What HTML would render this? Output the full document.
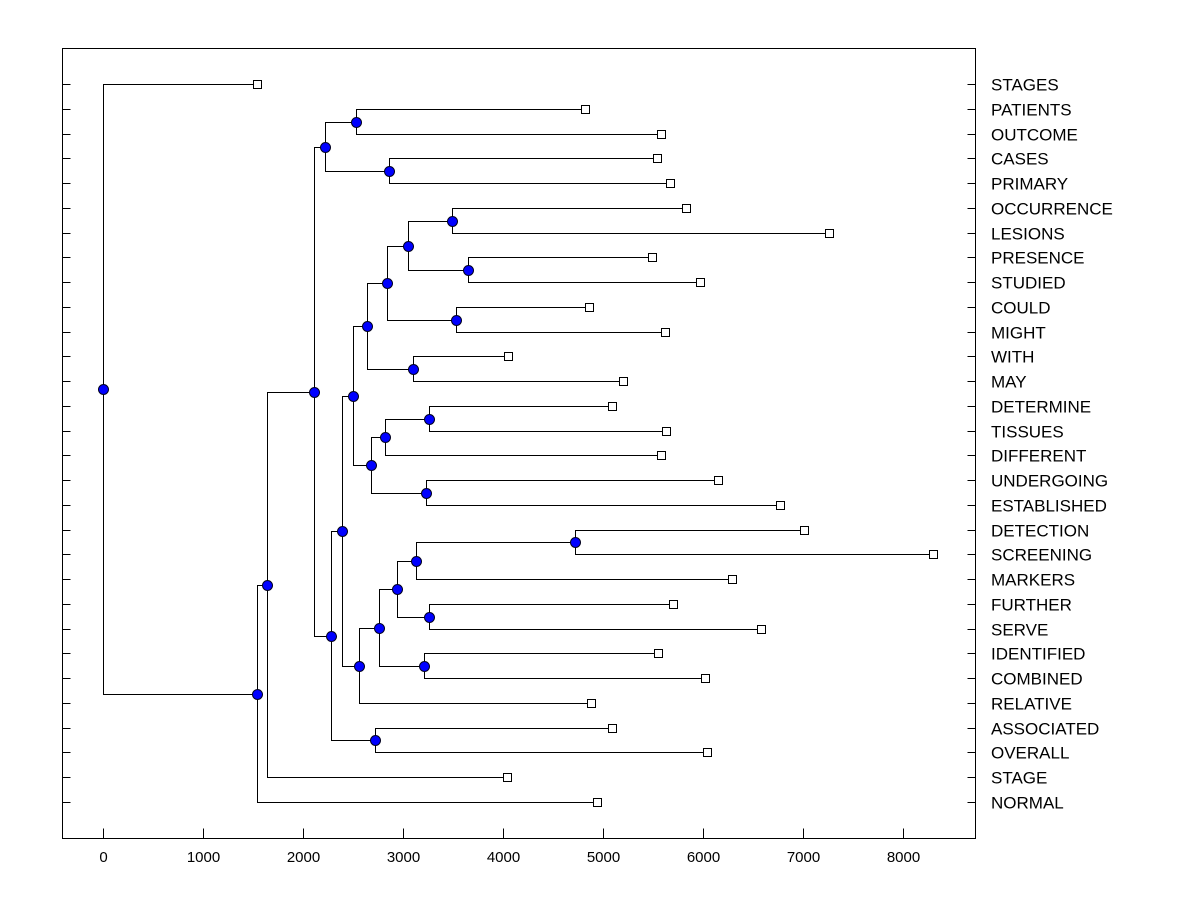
<!DOCTYPE html>
<html><head><meta charset="utf-8"><style>
body{margin:0;background:#fff;}
svg{display:block;font-family:"Liberation Sans",Arial,sans-serif;}
</style></head><body>
<svg id="chart" width="1200" height="900" viewBox="0 0 1200 900"></svg>
<script>
const leafNames=["STAGES","PATIENTS","OUTCOME","CASES","PRIMARY","OCCURRENCE","LESIONS","PRESENCE","STUDIED","COULD","MIGHT","WITH","MAY","DETERMINE","TISSUES","DIFFERENT","UNDERGOING","ESTABLISHED","DETECTION","SCREENING","MARKERS","FURTHER","SERVE","IDENTIFIED","COMBINED","RELATIVE","ASSOCIATED","OVERALL","STAGE","NORMAL"];
const leafValues=[1540,4820,5580,5540,5670,5830,7260,5490,5970,4860,5620,4050,5200,5090,5630,5580,6150,6770,7010,8300,6290,5700,6580,5550,6020,4880,5090,6040,4040,4940];
const mergeChildren=[
["L1","L2"],["L3","L4"],["N0","N1"],
["L5","L6"],["L7","L8"],["N3","N4"],["L9","L10"],["N5","N6"],["L11","L12"],["N7","N8"],
["L13","L14"],["N10","L15"],["L16","L17"],["N11","N12"],["N9","N13"],
["L18","L19"],["N15","L20"],["L21","L22"],["N16","N17"],["L23","L24"],["N18","N19"],["N20","L25"],
["N14","N21"],["L26","L27"],["N22","N23"],["N2","N24"],["N25","L28"],["N26","L29"],["L0","N27"]
];
const mergeHeights=[2530,2860,2220,3490,3650,3050,3530,2840,3100,2640,3260,2820,3230,2680,2500,4720,3130,3260,2940,3210,2760,2560,2390,2720,2280,2110,1640,1540,0];
const xTicks=[0,1000,2000,3000,4000,5000,6000,7000,8000];

const svg=document.getElementById('chart');
const NS='http://www.w3.org/2000/svg';
const L=62.5,R=975.5,T=48.5,B=838.5;
const xs=v=>Math.round(103+v*0.1)+0.5;
const rowY=i=>Math.round(84+i*(802-84)/29)+0.5;
function mk(tag,attrs,parent){const e=document.createElementNS(NS,tag);for(const k in attrs)e.setAttribute(k,attrs[k]);(parent||svg).appendChild(e);return e;}

const frame=mk('rect',{x:L,y:T,width:R-L,height:B-T,fill:'none',stroke:'#000','stroke-width':1,'shape-rendering':'crispEdges'});



xTicks.forEach(t=>{
  const x=xs(t);
  const tk=mk('line',{x1:x,x2:x,y1:B,y2:B-10,stroke:'#000','shape-rendering':'crispEdges'});
  
  
  const tx=mk('text',{x:x,y:862,'text-anchor':'middle','font-size':15,fill:'#000'});
  tx.textContent=t;
  
  
});

const lines=mk('g',{stroke:'#000','stroke-width':1,fill:'none','shape-rendering':'crispEdges'});



leafNames.forEach((n,i)=>{
  const y=rowY(i);
  const a=mk('line',{x1:L,x2:L+8,y1:y,y2:y,stroke:'#000','shape-rendering':'crispEdges'});
  
  
  const b=mk('line',{x1:R-8,x2:R,y1:y,y2:y,stroke:'#000','shape-rendering':'crispEdges'});
  
  
  const t=mk('text',{x:991,y:y+6,'font-size':17,fill:'#000'});
  t.textContent=n;
  
  
});

const nodePos=[];
function pos(ref){
  const i=+ref.slice(1);
  if(ref[0]==='L')return {x:xs(leafValues[i]),y:rowY(i)};
  return nodePos[i];
}
const dots=[];
mergeChildren.forEach((c,k)=>{
  const a=pos(c[0]),b=pos(c[1]);
  const x=xs(mergeHeights[k]),y=Math.round((a.y+b.y)/2-0.5)+0.5;
  nodePos[k]={x,y};
  const p=mk('path',{d:`M${a.x},${a.y}H${x}V${b.y}H${b.x}`},lines);
  
  
  dots.push({x,y});
});
leafNames.forEach((n,i)=>{
  const s=mk('rect',{x:xs(leafValues[i])-4,y:rowY(i)-4,width:8,height:8,fill:'#fff',stroke:'#000','shape-rendering':'crispEdges'});
  
  
});
dots.forEach(d=>{
  const c=mk('circle',{cx:d.x,cy:d.y,r:5,fill:'#0000ff',stroke:'#000020','stroke-width':1});
  
  
});
</script>
</body></html>
